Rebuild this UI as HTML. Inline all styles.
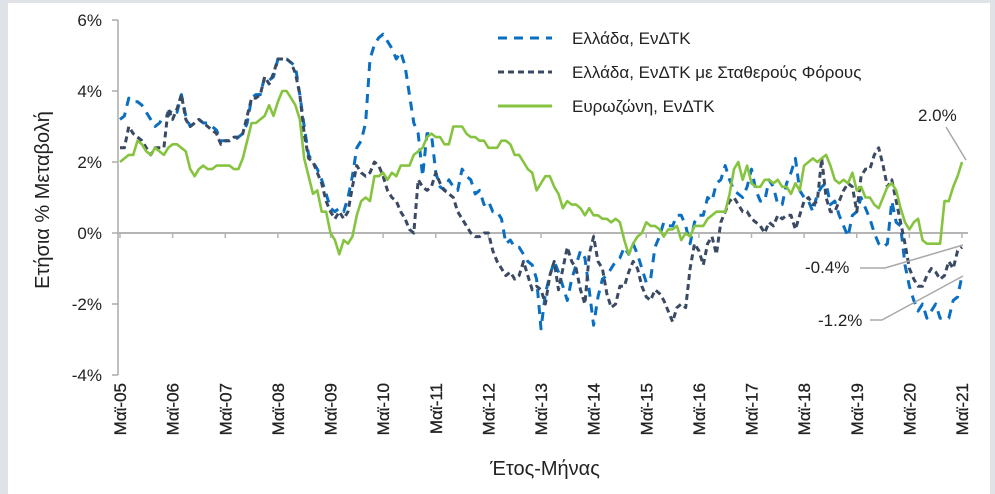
<!DOCTYPE html>
<html><head><meta charset="utf-8"><style>
body{margin:0;width:995px;height:494px;background:#dfe3e8;overflow:hidden;font-family:"Liberation Sans",sans-serif}
#panel{position:absolute;left:8px;top:3px;width:982px;height:491px;background:#fff}
svg{position:absolute;left:0;top:0}
text{font-family:"Liberation Sans","DejaVu Sans",sans-serif;fill:#222}
</style></head><body>
<div id="panel"></div>
<svg id="chart" width="995" height="494"></svg>
<script>
const yTicks=[6,4,2,0,-2,-4];
const yTickLabels=["6%","4%","2%","0%","-2%","-4%"];
const xLabels=["Μαϊ-05","Μαϊ-06","Μαϊ-07","Μαϊ-08","Μαϊ-09","Μαϊ-10","Μαϊ-11","Μαϊ-12","Μαϊ-13","Μαϊ-14","Μαϊ-15","Μαϊ-16","Μαϊ-17","Μαϊ-18","Μαϊ-19","Μαϊ-20","Μαϊ-21"];
const greece=[3.2,3.3,3.8,3.7,3.7,3.6,3.4,3.2,
3.0,3.1,3.3,3.3,3.5,3.4,3.9,3.3,3.0,3.1,3.2,3.1,
3.1,3.0,2.9,2.6,2.6,2.6,2.6,2.7,2.8,3.1,3.8,3.9,
3.9,4.4,4.3,4.4,4.9,4.9,4.9,4.8,4.7,3.9,3.0,2.2,
2.0,1.8,1.5,1.1,0.7,0.6,0.7,0.6,1.0,1.6,2.4,2.6,
3.1,4.9,5.3,5.5,5.6,5.4,5.2,4.9,5.1,4.7,3.9,3.1,
2.8,1.6,2.8,2.8,1.7,1.3,1.2,1.5,1.3,1.2,1.8,1.6,
1.5,1.1,1.2,0.8,0.9,0.6,0.6,0.4,-0.3,-0.2,-0.4,-0.4,
-0.6,-0.8,-0.9,-1.3,-2.7,-1.7,-1.2,-0.8,-1.1,-1.5,-1.9,-1.3,
-0.9,-0.5,-0.7,-1.6,-2.6,-1.8,-1.3,-1.2,-1.0,-0.8,-0.7,-0.4,
-0.6,-0.3,-0.6,-1.0,-1.4,-1.3,-0.4,-0.1,0.3,0.2,0.2,0.5,
0.5,0.2,-0.3,0.3,0.5,0.5,1.0,0.9,1.4,1.5,1.9,1.5,
1.2,1.1,1.0,1.3,1.8,1.2,0.9,0.9,1.5,1.3,0.8,0.8,
1.4,1.7,2.1,1.2,1.0,0.9,0.6,1.1,1.3,1.4,0.8,0.9,
0.5,0.2,-0.1,0.5,0.6,1.0,0.7,0.4,0.0,-0.3,-0.4,-0.3,
0.9,0.3,0.2,-0.9,-1.5,-1.9,-2.2,-2.0,-2.4,-2.2,-2.0,-2.4,
-2.4,-2.4,-1.9,-1.8,-1.2];
const greeceTax=[2.4,2.4,3.0,2.8,2.7,2.6,2.4,2.2,
2.4,2.4,2.4,3.5,3.2,3.5,3.9,3.2,3.0,3.1,3.2,3.1,
3.0,2.9,2.8,2.5,2.6,2.6,2.7,2.7,2.8,3.3,3.8,3.8,
3.9,4.4,4.2,4.5,4.9,4.9,4.9,4.8,4.5,3.9,2.8,2.1,
2.0,1.7,1.4,0.9,0.6,0.4,0.6,0.4,0.6,1.3,1.9,1.7,
1.6,1.7,2.0,1.9,1.6,1.2,1.0,0.9,0.6,0.4,0.1,0.0,
1.5,1.3,1.2,1.3,1.7,1.4,1.2,1.1,1.0,0.6,0.4,0.2,
0.0,-0.1,-0.1,0.0,0.0,-0.5,-0.8,-1.0,-1.2,-1.1,-1.3,-1.2,
-0.8,-1.2,-1.6,-1.5,-1.6,-2.0,-1.2,-0.8,-1.6,-1.0,-0.4,-0.8,
-1.0,-1.6,-2.0,-0.6,-0.1,-0.8,-1.0,-1.7,-2.1,-2.0,-1.5,-1.5,
-1.1,-0.8,-1.0,-1.5,-1.8,-1.9,-1.6,-1.7,-1.9,-2.2,-2.5,-2.1,
-2.0,-2.1,-1.0,-0.3,-0.5,-0.9,-0.3,-0.1,-0.6,0.3,0.6,0.9,
1.0,0.8,0.6,0.6,0.4,0.3,0.2,0.0,0.3,0.2,0.5,0.4,
0.5,0.5,0.1,0.5,0.9,1.0,0.8,0.9,2.1,1.0,0.6,0.6,
0.9,1.2,1.4,1.3,0.6,1.6,1.8,1.8,2.2,2.4,1.9,1.3,
1.5,0.9,0.3,-0.3,-1.0,-1.3,-1.5,-1.5,-1.2,-1.0,-1.1,-1.3,
-1.2,-0.8,-1.0,-0.5,-0.4];
const eurozone=[2.0,2.1,2.2,2.2,2.6,2.5,2.3,2.2,
2.4,2.3,2.2,2.4,2.5,2.5,2.4,2.3,1.8,1.6,1.8,1.9,
1.8,1.8,1.9,1.9,1.9,1.9,1.8,1.8,2.1,2.6,3.1,3.1,
3.2,3.3,3.6,3.3,3.7,4.0,4.0,3.8,3.6,3.2,2.1,1.6,
1.1,1.2,0.6,0.6,0.0,-0.2,-0.6,-0.2,-0.3,-0.1,0.5,0.9,
1.0,0.9,1.6,1.6,1.7,1.5,1.7,1.6,1.9,1.9,1.9,2.2,
2.3,2.4,2.7,2.8,2.7,2.7,2.5,2.5,3.0,3.0,3.0,2.8,
2.7,2.7,2.6,2.6,2.4,2.4,2.4,2.6,2.6,2.5,2.2,2.2,
2.0,1.8,1.7,1.2,1.4,1.6,1.6,1.3,1.1,0.7,0.9,0.8,
0.8,0.7,0.5,0.7,0.5,0.5,0.4,0.4,0.3,0.4,0.3,-0.2,
-0.6,-0.3,-0.1,0.0,0.3,0.2,0.2,0.1,-0.1,0.1,0.1,0.2,
-0.2,0.0,-0.1,0.2,0.2,0.2,0.4,0.5,0.6,0.6,0.6,1.1,
1.8,2.0,1.5,1.9,1.4,1.3,1.3,1.5,1.5,1.4,1.5,1.3,
1.3,1.1,1.4,1.2,1.9,2.0,2.1,2.0,2.1,2.2,1.9,1.5,
1.4,1.5,1.4,1.7,1.2,1.3,1.0,1.0,0.8,0.7,1.0,1.3,
1.4,1.2,0.7,0.3,0.1,0.3,0.4,-0.2,-0.3,-0.3,-0.3,-0.3,
0.9,0.9,1.3,1.6,2.0];

const svg=document.getElementById('chart');
const NS='http://www.w3.org/2000/svg';
const X0=120,X1=962,Y0=233,PX2=71;
const nMonths=192;
function xs(m){return X0+(X1-X0)*m/nMonths;}
function ys(v){return Y0-v*PX2/2;}
function mk(tag,attrs,parent){const e=document.createElementNS(NS,tag);for(const k in attrs)e.setAttribute(k,attrs[k]);(parent||svg).appendChild(e);return e;}

const yAxis=mk('line',{x1:118,y1:ys(6),x2:118,y2:ys(-4),stroke:'#aaa','stroke-width':1.5});


yTicks.forEach((v,i)=>{
  const t=mk('line',{x1:112,x2:118,y1:ys(v),y2:ys(v),stroke:'#aaa','stroke-width':1.5});
  
  
  const l=mk('text',{x:102,y:ys(v)+6,'text-anchor':'end','font-size':17});
  l.textContent=yTickLabels[i];
  
  
});
const zl=mk('line',{x1:118,x2:968,y1:Y0,y2:Y0,stroke:'#b5b5b5','stroke-width':2});


xLabels.forEach((s,i)=>{
  const x=xs(i*12);
  const t=mk('line',{x1:x,x2:x,y1:Y0,y2:Y0+5,stroke:'#b5b5b5','stroke-width':1.5});
  
  
  const l=mk('text',{x:0,y:0,'font-size':17,'text-anchor':'end',stroke:'#222','stroke-width':0.3,transform:`translate(${x+6},383) rotate(-90)`});
  l.textContent=s;
  
  
});
function series(data,color,dash,width,name){
  const d=data.map((v,i)=>(i?'L':'M')+xs(i).toFixed(1)+','+ys(v).toFixed(1)).join(' ');
  const p=mk('path',{d:d,fill:'none',stroke:color,'stroke-width':width,'stroke-dasharray':dash,'stroke-linejoin':'round'});
  
  
}
series(greece,'#0a6fc2','9,7',3,'greece-cpi-line');
series(greeceTax,'#3b4a63','6,4',3,'greece-cpi-constant-tax-line');
series(eurozone,'#86c440','none',2.6,'eurozone-hicp-line');

const leg=[['Ελλάδα, ΕνΔΤΚ','#0a6fc2','9,7'],['Ελλάδα, ΕνΔΤΚ με Σταθερούς Φόρους','#3b4a63','6,4'],['Ευρωζώνη, ΕνΔΤΚ','#86c440','none']];
leg.forEach((e,i)=>{
  const y=38+i*34;
  const g=mk('g',{});
  
  
  mk('line',{x1:498,x2:552,y1:y,y2:y,stroke:e[1],'stroke-width':3,'stroke-dasharray':e[2]},g);
  const t=mk('text',{x:572,y:y+6,'font-size':17},g);
  t.textContent=e[0];
});
const ann=[['2.0%',918,121,'M946,127 L966,160'],['-0.4%',805,273,'M860,268 L885,268 L963,245'],['-1.2%',818,326,'M870,320 L882,320 L963,276']];
ann.forEach(a=>{
  const t=mk('text',{x:a[1],y:a[2],'font-size':17});
  t.textContent=a[0];
  
  
  const p=mk('path',{d:a[3],fill:'none',stroke:'#a8a8a8','stroke-width':1.5});
  
  
});
const yt=mk('text',{x:0,y:0,'font-size':20,'text-anchor':'middle',transform:'translate(49,200) rotate(-90)'});
yt.textContent='Ετήσια % Μεταβολή';


const xt=mk('text',{x:545,y:475,'font-size':20,'text-anchor':'middle'});
xt.textContent='Έτος-Μήνας';


</script>
</body></html>
